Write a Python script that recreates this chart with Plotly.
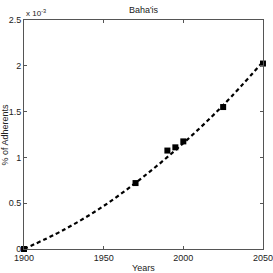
import plotly.graph_objects as go

# data (values in units of 1e-3 %)
years = [1900, 1970, 1990, 1995, 2000, 2025, 2050]
adherents = [0.0, 0.72, 1.075, 1.11, 1.175, 1.55, 2.025]

curve_years = [1900, 1925, 1950, 1975, 2000, 2025, 2050]
curve_vals = [0.0, 0.21, 0.47, 0.79, 1.155, 1.57, 2.045]

x_ticks = [1900, 1950, 2000, 2050]
y_ticks = [0, 0.5, 1, 1.5, 2, 2.5]
y_ticktext = ["0", "0.5", "1", "1.5", "2", "2.5"]

FAM = "Liberation Sans, Arial, sans-serif"
font = dict(family=FAM, size=9, color="#222")

fig = go.Figure()
fig.add_trace(go.Scatter(x=curve_years, y=curve_vals, mode="lines",
                         line=dict(color="black", width=2.2, dash="4px,3px", shape="spline"),
                         showlegend=False, hoverinfo="skip"))
fig.add_trace(go.Scatter(x=years, y=adherents, mode="markers",
                         marker=dict(symbol="square", size=6, color="black"),
                         showlegend=False, cliponaxis=False))

axis_common = dict(showline=True, linecolor="#555", linewidth=1, mirror="ticks",
                   ticks="inside", ticklen=3, tickcolor="#555", showgrid=False,
                   zeroline=False, tickfont=font, automargin=False)
fig.update_layout(
    width=273, height=273,
    margin=dict(l=24, r=10, t=20, b=24, autoexpand=False),
    paper_bgcolor="white", plot_bgcolor="white",
    font=font,
    title=dict(text="Baha'is", xref="paper", x=0.5, xanchor="center", y=0.965, yanchor="middle",
               font=font),
    xaxis=dict(range=[1899.98, 2050.02], tickvals=x_ticks, **axis_common),
    yaxis=dict(range=[0, 2.5004], tickvals=y_ticks, ticktext=y_ticktext, **axis_common),
)
fig.add_annotation(text="Years", xref="paper", yref="paper", x=0.5, y=0, yshift=-12,
                   xanchor="center", yanchor="top", showarrow=False, font=font)
fig.add_annotation(text="% of Adherents", xref="paper", yref="paper", x=0, y=0.5, xshift=-13,
                   xanchor="right", yanchor="middle", textangle=-90, showarrow=False, font=font)
fig.add_annotation(text="x 10<sup>-3</sup>", xref="paper", yref="paper", x=0.0, y=1.0,
                   xanchor="left", yanchor="bottom", showarrow=False,
                   font=dict(family=FAM, size=8, color="#222"))
fig.write_html("out.html", config={"displayModeBar": False},
               post_script="document.body.style.margin='0';document.body.style.overflow='hidden';")
